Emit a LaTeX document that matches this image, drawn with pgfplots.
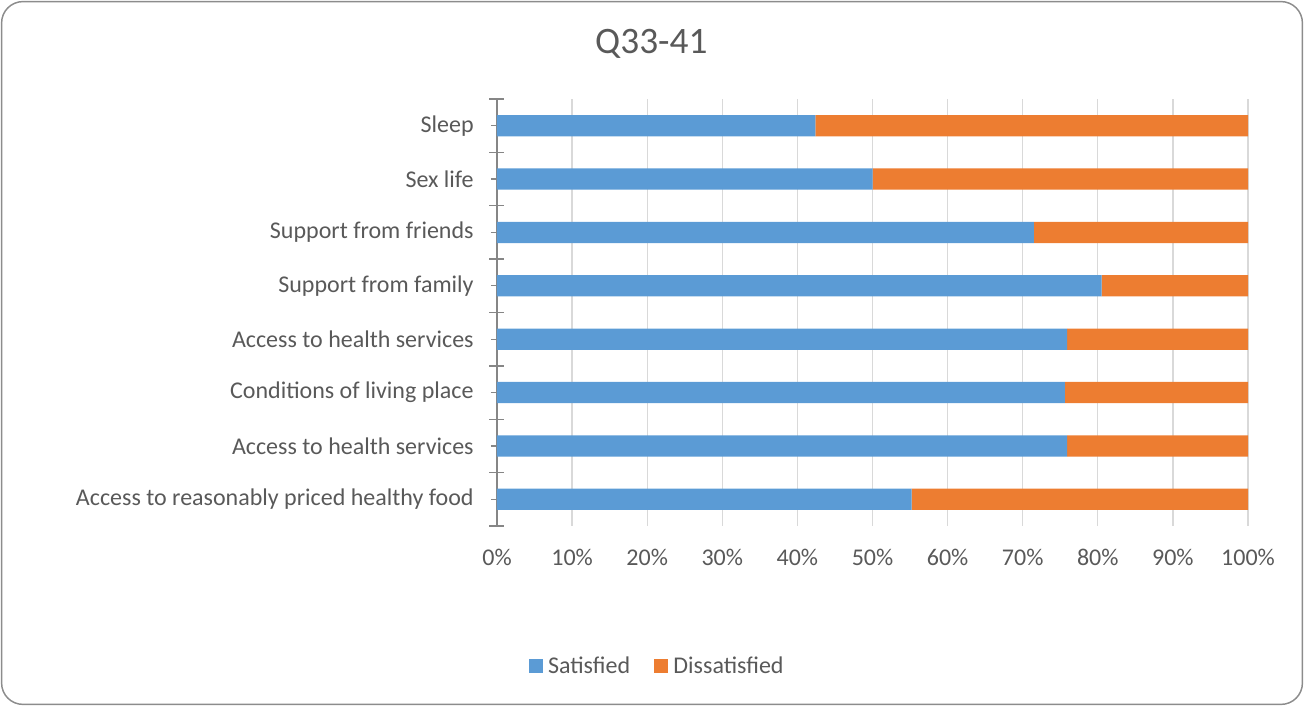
\documentclass[border=0pt]{standalone}
\usepackage{pgfplots}
\pgfplotsset{compat=1.18}
\usepackage{fontspec}
\setmainfont{Carlito}
\definecolor{sat}{HTML}{5B9BD5}
\definecolor{dis}{HTML}{ED7D31}
\definecolor{txt}{HTML}{595959}
\definecolor{gridc}{HTML}{D9D9D9}
\definecolor{axc}{HTML}{868686}
\definecolor{framec}{HTML}{8C8C8C}
\begin{document}
\begin{tikzpicture}[x=1pt,y=1pt]
\useasboundingbox (0,0) rectangle (978,529.5);
\draw[framec, line width=1.1pt, rounded corners=16pt] (1.2,1.2) rectangle (976.8,528.3);
\node[text=txt, font=\fontsize{28}{33}\selectfont] at (488.5,496.5) {Q33-41};
\begin{axis}[
  at={(372.75pt,135pt)}, anchor=south west,
  scale only axis, width=563.25pt, height=320.25pt,
  xbar stacked, bar width=16pt,
  y dir=reverse,
  xmin=0, xmax=100, ymin=-0.5, ymax=7.5,
  axis y line*=left, axis x line*=bottom,
  x axis line style={draw=none},
  y axis line style={axc, line width=1pt},
  xtick={0,10,...,100},
  xticklabels={0\%,10\%,20\%,30\%,40\%,50\%,60\%,70\%,80\%,90\%,100\%},
  xtick style={draw=none},
  xmajorgrids, major grid style={gridc, line width=1pt},
  ytick={0,...,7},
  yticklabels={Sleep,Sex life,Support from friends,Support from family,Access to health services,Conditions of living place,Access to health services,Access to reasonably priced healthy food},
  tick align=center,
  major tick length=9pt,
  ytick style={axc, line width=1pt},
  extra y ticks={-0.5,0.5,...,7.5},
  extra y tick labels={},
  extra y tick style={major tick length=11.25pt, ymajorgrids=false, xmajorgrids=false},
  ticklabel style={text=txt, font=\fontsize{18}{21.6}\selectfont},
  yticklabel style={xshift=-9.5pt},
  xticklabel style={yshift=-9.5pt},
  legend style={at={(0.2137,-0.328)}, anchor=center, draw=none, fill=none,
    legend columns=2, text=txt, font=\fontsize{18}{21.6}\selectfont,
    /tikz/every odd column/.append style={column sep=2pt},
    /tikz/every even column/.append style={column sep=16pt}},
  legend image code/.code={\fill[#1,draw=none] (0pt,-5.25pt) rectangle (10.5pt,5.25pt);},
]
\addplot[fill=sat, draw=none] coordinates {(42.4,0) (50.0,1) (71.5,2) (80.5,3) (75.9,4) (75.6,5) (75.9,6) (55.2,7)};
\addplot[fill=dis, draw=none] coordinates {(57.6,0) (50.0,1) (28.5,2) (19.5,3) (24.1,4) (24.4,5) (24.1,6) (44.8,7)};
\legend{Satisfied,Dissatisfied}
\end{axis}
\end{tikzpicture}
\end{document}
